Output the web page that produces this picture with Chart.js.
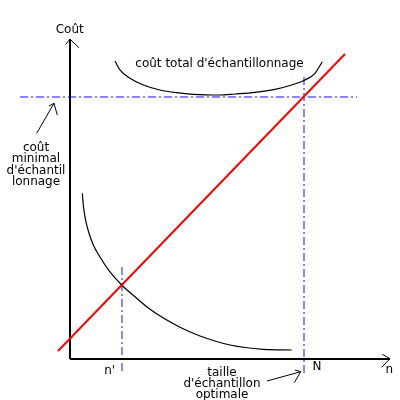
<!DOCTYPE html>
<html>
<head>
<meta charset="utf-8">
<script src="https://cdn.jsdelivr.net/npm/chart.js@4.4.0/dist/chart.umd.min.js"></script>
<style>
  html, body { margin: 0; padding: 0; background: #fff; }
  #wrap { width: 400px; height: 400px; position: relative; }
</style>
</head>
<body>
<div id="wrap"><canvas id="c"></canvas></div>
<script>
// ---- data (x: sample size, N = 100 ; y: cost, minimal cost = 100) ----
const sampleN = 100;          // optimal sample size N
const sampleNprime = 22.22;   // n'
const minCost = 100;          // minimal sampling cost

const linearCostX = [-5.13, 117.52];
const linearCostY = [3.05, 116.41];

const errorCostX = [5.26, 5.77, 6.67, 8.03, 9.96, 12.82, 17.09, 22.09, 28.50, 34.19, 47.01, 55.56, 68.38, 82.61, 94.74];
const errorCostY = [63.24, 58.02, 53.05, 48.28, 43.51, 38.93, 33.21, 28.24, 23.17, 18.97, 12.10, 8.78, 5.34, 3.70, 3.44];

const totalCostX = [19.23, 21.37, 25.64, 31.32, 38.46, 45.60, 52.69, 64.10, 70.51, 79.06, 87.61, 94.74, 100.43, 104.70, 107.82];
const totalCostY = [113.74, 110.31, 107.14, 104.58, 102.67, 101.64, 101.03, 100.76, 101.15, 101.79, 102.94, 104.58, 106.49, 109.05, 113.47];

const minCostLineX = [-21.37, 122.65];
const nLineY = [107.6, -5.34];
const nPrimeLineY = [35.1, -5.34];

const yAxisX = [0, 0];
const yAxisY = [0, 122.1];
const yArrowX = [-1.84, 0, 3.85];
const yArrowY = [120.1, 122.1, 118.8];
const xAxisX = [0, 136.75];
const xAxisY = [0, 0];
const xArrowX = [133.46, 136.75, 133.2];
const xArrowY = [1.79, 0.1, -3.17];

const ptrMinX = [-14.23, -6.84];
const ptrMinY = [86.15, 97.6];
const ptrMinHeadX = [-8.97, -6.84, -5.43];
const ptrMinHeadY = [96.56, 97.6, 93.13];
const ptrOptX = [84.19, 98.59];
const ptrOptY = [-8.40, -4.85];
const ptrOptHeadX = [96.15, 98.59, 95.85];
const ptrOptHeadY = [-4.20, -4.85, -9.05];

// text labels: [lines, x, y (first baseline), line height px]
const labels = [
  [["Coût"], -0.13, 124.5, 0],
  [["coût total d'échantillonnage"], 63.9, 111.6, 0],
  [["coût", "minimal", "d'échantil", "lonnage"], -14.53, 79.4, 11.4],
  [["n'"], 16.97, -5.73, 0],
  [["N"], 105.56, -4.2, 0],
  [["n"], 136.45, -5.46, 0],
  [["taille", "d'échantillon", "optimale"], 64.96, -6.37, 11]
];

function pts(xs, ys) { return xs.map((x, i) => ({ x: x, y: ys[i] })); }

const blue = 'rgb(136,136,255)';
const dashDot = [8, 3, 2, 3];

function ds(data, color, width, extra) {
  return Object.assign({
    data: data, showLine: true, borderColor: color, backgroundColor: color,
    borderWidth: width, pointRadius: 0, pointHoverRadius: 0, fill: false, clip: false
  }, extra || {});
}

const datasets = [
  ds(pts(linearCostX, linearCostY), '#ff0000', 2),
  ds(pts(errorCostX, errorCostY), '#000', 1.2, { cubicInterpolationMode: 'monotone' }),
  ds(pts(totalCostX, totalCostY), '#000', 1.2, { cubicInterpolationMode: 'monotone' }),
  ds(pts(yAxisX, yAxisY), '#000', 2),
  ds(pts(yArrowX, yArrowY), '#000', 1),
  ds(pts(xAxisX, xAxisY), '#000', 2),
  ds(pts(xArrowX, xArrowY), '#000', 1),
  ds(pts(ptrMinX, ptrMinY), '#000', 1),
  ds(pts(ptrMinHeadX, ptrMinHeadY), '#000', 1),
  ds(pts(ptrOptX, ptrOptY), '#000', 1),
  ds(pts(ptrOptHeadX, ptrOptHeadY), '#000', 1),
  ds(pts(minCostLineX, [minCost, minCost]), blue, 2, { borderDash: dashDot }),
  ds(pts([sampleN, sampleN], nLineY), blue, 2, { borderDash: dashDot }),
  ds(pts([sampleNprime, sampleNprime], nPrimeLineY), blue, 2, { borderDash: dashDot })
];

const textPlugin = {
  id: 'texts',
  afterDatasetsDraw(chart) {
    const ctx = chart.ctx;
    const xs = chart.scales.x, ys = chart.scales.y;
    ctx.save();
    ctx.fillStyle = '#000';
    ctx.font = '12px "DejaVu Sans"';
    ctx.textAlign = 'center';
    ctx.textBaseline = 'alphabetic';
    labels.forEach(([lines, x, y, lh]) => {
      const px = xs.getPixelForValue(x);
      const py = ys.getPixelForValue(y);
      lines.forEach((t, i) => ctx.fillText(t, px, py + i * lh));
    });
    ctx.restore();
  }
};

new Chart(document.getElementById('c'), {
  type: 'scatter',
  data: { datasets: datasets },
  options: {
    responsive: true,
    maintainAspectRatio: false,
    animation: false,
    events: [],
    layout: { padding: 0 },
    plugins: { legend: { display: false }, tooltip: { enabled: false }, title: { display: false } },
    scales: {
      x: { type: 'linear', display: false, min: -29.915, max: 141.026 },
      y: { type: 'linear', display: false, min: -15.649, max: 137.023 }
    }
  },
  plugins: [textPlugin]
});
</script>
</body>
</html>
